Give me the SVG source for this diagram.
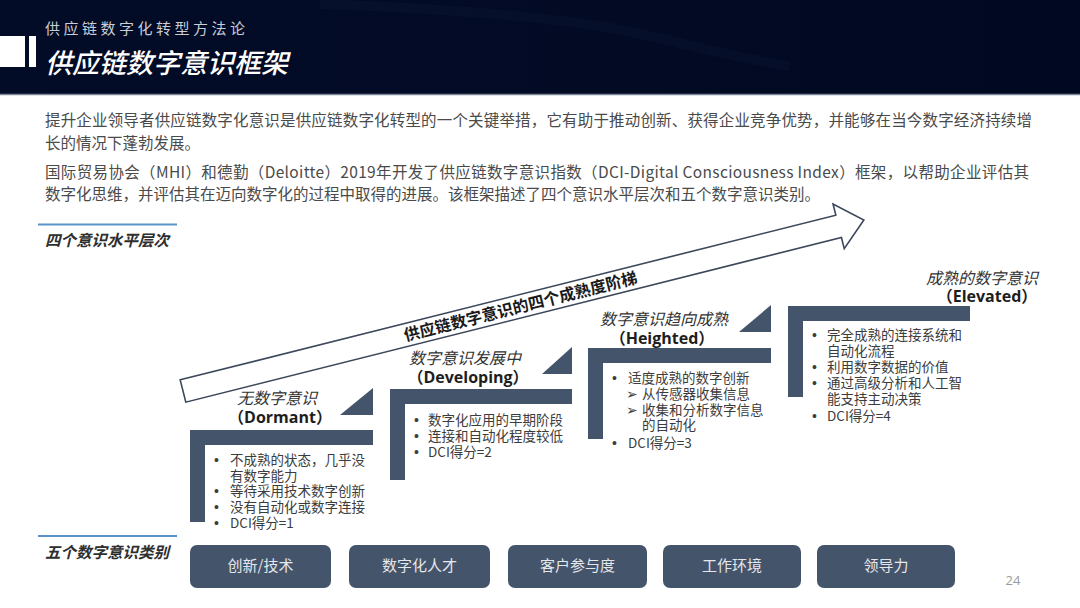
<svg xmlns="http://www.w3.org/2000/svg" width="1080" height="608" viewBox="0 0 1080 608">
<defs>
<linearGradient id="hdr" x1="0" y1="0" x2="1" y2="0">
<stop offset="0" stop-color="#030c27"/>
<stop offset="0.6" stop-color="#020a24"/>
<stop offset="1" stop-color="#010822"/>
</linearGradient>
<style>
.sans{font-family:"Noto Sans CJK SC","DejaVu Sans",sans-serif}
.para{font-family:"Noto Sans CJK SC",sans-serif;font-size:15.5px;fill:#4a4a4a}
.lbl{font-family:"Noto Sans CJK SC",sans-serif;font-size:15.5px;font-style:italic;font-weight:bold;fill:#2e2e2e}
.ttl{font-family:"Noto Sans CJK SC",sans-serif;font-size:16px;font-style:italic;fill:#333;text-anchor:middle}
.en{font-family:"Open Sans","Noto Sans CJK SC",sans-serif;font-size:16px;font-weight:bold;fill:#1e1e1e;text-anchor:middle}
.b{font-family:"Noto Sans CJK SC",sans-serif;font-size:13.5px;fill:#3c3c3c}
.d{font-family:"Liberation Sans",sans-serif;font-size:14px;fill:#3c3c3c}
.ar{font-family:"DejaVu Sans",sans-serif;font-size:14px;fill:#3c3c3c}
.step{fill:#44546a}
.btn{fill:#44546a}
.btxt{font-family:"Noto Sans CJK SC",sans-serif;font-size:15px;fill:#e4e7ec;text-anchor:middle}
.bl{stroke:#5b93c9;stroke-width:2}
</style>
</defs>
<rect width="1080" height="608" fill="#ffffff"/>
<g id="header">
<rect x="0" y="0" width="1080" height="94" fill="url(#hdr)"/>
<path d="M320,4 C440,8 530,16 600,26 C670,38 720,56 790,66" fill="none" stroke="#1a2744" stroke-width="10" opacity="0.18"/>
<line x1="0" y1="94.5" x2="1080" y2="94.5" stroke="#7c8699" stroke-width="1.5"/>
<rect x="0" y="36" width="25" height="31" fill="#ffffff"/>
<rect x="29" y="36" width="7" height="31" fill="#ffffff"/>
<text x="45" y="34" class="sans" font-size="15" letter-spacing="3.5" fill="#c9cdd6">供应链数字化转型方法论</text>
<text x="45" y="73" class="sans" font-size="27" font-style="italic" font-weight="500" fill="#ffffff">供应链数字意识框架</text>
</g>
<g id="intro">
<text x="45" y="126" class="para" textLength="987" lengthAdjust="spacing">提升企业领导者供应链数字化意识是供应链数字化转型的一个关键举措，它有助于推动创新、获得企业竞争优势，并能够在当今数字经济持续增</text>
<text x="45" y="149" class="para">长的情况下蓬勃发展。</text>
<text x="45" y="178" class="para" textLength="984" lengthAdjust="spacing">国际贸易协会（MHI）和德勤（Deloitte）2019年开发了供应链数字意识指数（DCI-Digital Consciousness Index）框架，以帮助企业评估其</text>
<text x="45" y="200" class="para" textLength="775" lengthAdjust="spacing">数字化思维，并评估其在迈向数字化的过程中取得的进展。该框架描述了四个意识水平层次和五个数字意识类别。</text>
</g>
<g id="label-levels">
<line x1="38" y1="224.5" x2="177" y2="224.5" class="bl"/>
<text x="45" y="246" class="lbl">四个意识水平层次</text>
</g>
<g id="label-categories">
<line x1="38" y1="536" x2="177" y2="536" class="bl"/>
<text x="45" y="558" class="lbl">五个数字意识类别</text>
</g>
<g id="connectors">
<g id="maturity-arrow" transform="translate(183,391) rotate(-14.1)">
<path d="M0,-11.5 L676,-11.5 L676,-23 L702,0 L676,23 L676,11.5 L0,11.5 Z" fill="#ffffff" stroke="#3b475a" stroke-width="1.6" stroke-linejoin="miter"/>
<text x="348" y="6" class="sans" font-size="16" font-weight="bold" fill="#1a1a1a" text-anchor="middle">供应链数字意识的四个成熟度阶梯</text>
</g>
</g>
<g id="step-dormant">
<path class="step" d="M190,430 H373 V445 H205 V522 H190 Z"/>
<polygon class="step" points="340,415 373,415 373,388"/>
<text x="277" y="404" class="ttl">无数字意识</text>
<text x="280" y="423" class="en">（Dormant）</text>
<text x="214" y="465" class="d">•</text><text x="230" y="465" class="b">不成熟的状态，几乎没</text>
<text x="230" y="481" class="b">有数字能力</text>
<text x="214" y="496" class="d">•</text><text x="230" y="496" class="b">等待采用技术数字创新</text>
<text x="214" y="512" class="d">•</text><text x="230" y="512" class="b">没有自动化或数字连接</text>
<text x="214" y="528" class="d">•</text><text x="230" y="528" class="b">DCI得分=1</text>
</g>
<g id="step-developing">
<path class="step" d="M390,389 H572 V404 H405 V480 H390 Z"/>
<polygon class="step" points="542,374 572,374 572,347"/>
<text x="465" y="364" class="ttl">数字意识发展中</text>
<text x="468" y="383" class="en">（Developing）</text>
<text x="414" y="425" class="d">•</text><text x="428" y="425" class="b">数字化应用的早期阶段</text>
<text x="414" y="441" class="d">•</text><text x="428" y="441" class="b">连接和自动化程度较低</text>
<text x="414" y="457" class="d">•</text><text x="428" y="457" class="b">DCI得分=2</text>
</g>
<g id="step-heighted">
<path class="step" d="M588,348 H771 V363 H603 V439 H588 Z"/>
<polygon class="step" points="739,332 771,332 771,305"/>
<text x="664" y="325" class="ttl">数字意识趋向成熟</text>
<text x="662" y="344" class="en">（Heighted）</text>
<text x="612" y="383" class="d">•</text><text x="628" y="383" class="b">适度成熟的数字创新</text>
<text x="626" y="399" class="ar">➢</text><text x="642" y="399" class="b">从传感器收集信息</text>
<text x="626" y="415" class="ar">➢</text><text x="642" y="415" class="b">收集和分析数字信息</text>
<text x="642" y="430" class="b">的自动化</text>
<text x="612" y="448" class="d">•</text><text x="628" y="448" class="b">DCI得分=3</text>
</g>
<g id="step-elevated">
<path class="step" d="M788,306 H970 V321 H803 V397 H788 Z"/>
<text x="982" y="284" class="ttl">成熟的数字意识</text>
<text x="987" y="302" class="en">（Elevated）</text>
<text x="812" y="340" class="d">•</text><text x="827" y="340" class="b">完全成熟的连接系统和</text>
<text x="827" y="356" class="b">自动化流程</text>
<text x="812" y="372" class="d">•</text><text x="827" y="372" class="b">利用数字数据的价值</text>
<text x="812" y="388" class="d">•</text><text x="827" y="388" class="b">通过高级分析和人工智</text>
<text x="827" y="404" class="b">能支持主动决策</text>
<text x="812" y="421" class="d">•</text><text x="827" y="421" class="b">DCI得分=4</text>
</g>
<g id="cat-innovation"><rect class="btn" x="190" y="545" width="141" height="43" rx="7"/><text x="260.5" y="571" class="btxt">创新/技术</text></g>
<g id="cat-talent"><rect class="btn" x="349" y="545" width="141" height="43" rx="7"/><text x="419.5" y="571" class="btxt">数字化人才</text></g>
<g id="cat-customer"><rect class="btn" x="508" y="545" width="139" height="43" rx="7"/><text x="577.5" y="571" class="btxt">客户参与度</text></g>
<g id="cat-workplace"><rect class="btn" x="663" y="545" width="138" height="43" rx="7"/><text x="732" y="571" class="btxt">工作环境</text></g>
<g id="cat-leadership"><rect class="btn" x="817" y="545" width="138" height="43" rx="7"/><text x="886" y="571" class="btxt">领导力</text></g>
<text x="1013" y="585" font-family="Open Sans, sans-serif" font-size="13" fill="#9a9a9a" text-anchor="middle">24</text>
</svg>
